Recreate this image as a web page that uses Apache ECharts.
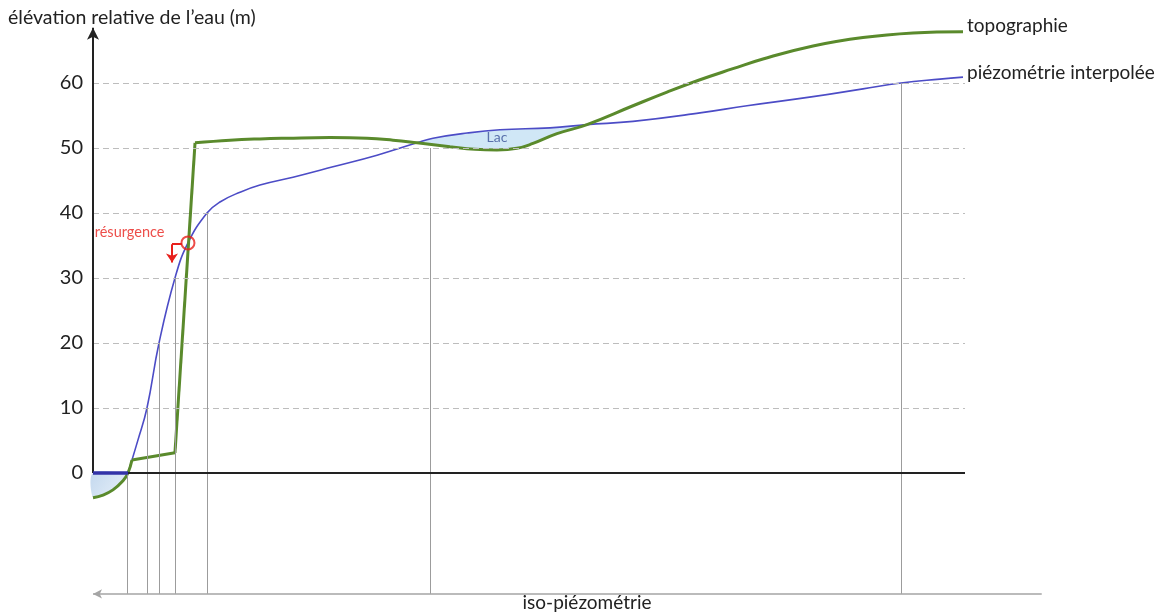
<!DOCTYPE html>
<html>
<head>
<meta charset="utf-8">
<script src="https://cdn.jsdelivr.net/npm/echarts/dist/echarts.min.js"></script>
<style>
  html, body { margin: 0; padding: 0; background: #ffffff; }
  #chart { width: 1171px; height: 615px; }
</style>
</head>
<body>
<div id="chart"></div>
<script>
// Cross-section: distance along the profile (arbitrary units) and elevation relative to the water (m)
const topoX = [0, 11.5, 22.9, 34.4, 40.1, 44.7, 94.0, 117.0, 157.1, 191.5, 222.5, 271.8, 314.2, 344.0,
  371.6, 409.4, 438.1, 463.3, 486.2, 504.6, 532.1, 566.5, 619.3, 658.3, 696.1, 733.9, 768.3, 825.7,
  883.0, 940.4, 997.7];
const topoY = [-3.8, -3.4, -2.6, -1.2, 0, 2.0, 3.1, 50.8, 51.2, 51.4, 51.5, 51.6, 51.5, 51.2,
  50.8, 50.2, 49.8, 49.7, 49.95, 50.7, 52.2, 53.6, 56.5, 58.6, 60.5, 62.2, 63.7, 65.7,
  67.0, 67.7, 67.9];
// indices where the terrain profile has sharp breaks
const topoCorners = [5, 6, 7];

const piezoX = [0, 40.1, 51.6, 61.9, 75.7, 94.0, 108.9, 130.7, 145.6, 168.6, 191.5, 229.4, 275.2,
  325.7, 371.6, 389.9, 428.9, 466.7, 524.1, 566.5, 619.3, 696.1, 750.0, 825.7, 883.0, 926.6,
  971.3, 997.7];
const piezoY = [0, 0, 5.1, 10, 20, 30, 35.4, 40, 41.7, 43.2, 44.3, 45.5, 47.1,
  48.9, 50.8, 51.5, 52.3, 52.8, 53.1, 53.6, 54.1, 55.4, 56.5, 57.9, 59.1, 60.0,
  60.6, 60.9];
// the first piece (the water surface on the left) is drawn thicker
const piezoCorners = [1];

// iso-piezometric lines: level (m) and position along the profile
const isoLevels = [0, 10, 20, 30, 40, 50, 60];
const isoX = [39.0, 61.9, 75.7, 94.0, 130.7, 386.5, 926.6];

const yTicks = [0, 10, 20, 30, 40, 50, 60];

const resurgence = [108.9, 35.4];
const resurgenceArrow = [[102.1, 35.2], [90.6, 35.2], [90.6, 32.4]];
const lacRange = [371.6, 566.5];
const lacLabelPos = [463.3, 51.6];
const leftLakeRange = [0, 40.1];

const PROFILE_END = 1000;
const BASE_LEVEL = -18.6;
const BASE_END = 1088;
const AXIS_TOP = 68.5;

const FONT = 'Lato, "Open Sans", sans-serif';
const GREEN = '#5a8a2c';
const BLUE = '#4c4cc6';
const RED = '#e8201c';

function pieces(xs, ys, corners) {
  const cuts = [0].concat(corners, [xs.length - 1]);
  const out = [];
  for (let i = 0; i < cuts.length - 1; i++) {
    const seg = [];
    for (let k = cuts[i]; k <= cuts[i + 1]; k++) seg.push([xs[k], ys[k]]);
    out.push(seg);
  }
  return out;
}

function within(x, range) {
  return x >= range[0] - 1e-9 && x <= range[1] + 1e-9;
}

const chart = echarts.init(document.getElementById('chart'), null, { renderer: 'canvas' });

const topoPieces = pieces(topoX, topoY, topoCorners);
const piezoPieces = pieces(piezoX, piezoY, piezoCorners);

const series = [];

// water bodies: the pool on the left and the lake between the two profiles
series.push({
  type: 'custom',
  z: 1,
  silent: true,
  data: [[0, 0]],
  renderItem: function (params, api) {
    const left = [];
    topoX.forEach((x, i) => { if (within(x, leftLakeRange)) left.push(api.coord([x, topoY[i]])); });
    left.push(api.coord([leftLakeRange[1], 0]));
    left.push(api.coord([leftLakeRange[0], 0]));

    const top = [];
    const bottom = [];
    piezoX.forEach((x, i) => { if (within(x, lacRange)) top.push(api.coord([x, piezoY[i]])); });
    topoX.forEach((x, i) => { if (within(x, lacRange)) bottom.push(api.coord([x, topoY[i]])); });
    const lac = top.concat(bottom.reverse());

    return {
      type: 'group',
      children: [
        {
          type: 'polygon',
          shape: { points: left, smooth: 0.3 },
          style: {
            fill: new echarts.graphic.LinearGradient(0, 0, 1, 1, [
              { offset: 0, color: '#c3d8ee' },
              { offset: 1, color: '#e9f1fa' }
            ])
          }
        },
        {
          type: 'polygon',
          shape: { points: lac, smooth: 0.3 },
          style: { fill: '#d0e7f6' }
        }
      ]
    };
  }
});

// frame: axes, reference levels and iso-piezometric verticals
const gridLines = yTicks.filter(v => v > 0).map(v => [
  { coord: [0, v] }, { coord: [PROFILE_END, v] }
]);
const isoLines = isoX.map((x, i) => [
  { coord: [x, isoLevels[i]] }, { coord: [x, BASE_LEVEL] }
]);

series.push({
  type: 'line',
  data: [],
  z: 2,
  silent: true,
  markLine: {
    silent: true,
    animation: false,
    symbol: 'none',
    label: { show: false },
    data: [].concat(
      gridLines.map(l => [
        Object.assign({}, l[0], { lineStyle: { color: '#bdbdbd', width: 1, type: [6, 4] } }),
        l[1]
      ]),
      isoLines.map(l => [
        Object.assign({}, l[0], { lineStyle: { color: '#9c9c9c', width: 1, type: 'solid' } }),
        l[1]
      ]),
      [[
        { coord: [0, 0], lineStyle: { color: '#222222', width: 2, type: 'solid' } },
        { coord: [PROFILE_END, 0] }
      ]],
      [[
        { coord: [0, 0], symbol: 'none', lineStyle: { color: '#222222', width: 2, type: 'solid' } },
        { coord: [0, AXIS_TOP], symbol: 'arrow', symbolSize: [9, 12] }
      ]],
      [[
        { coord: [BASE_END, BASE_LEVEL], symbol: 'none', lineStyle: { color: '#a5a5a5', width: 1.5, type: 'solid' } },
        { coord: [0, BASE_LEVEL], symbol: 'arrow', symbolSize: [7, 9] }
      ]]
    )
  }
});

// terrain profile
topoPieces.forEach((seg, i) => {
  const last = i === topoPieces.length - 1;
  series.push({
    type: 'line',
    name: 'topographie',
    data: seg,
    z: 4,
    smooth: 0.45,
    symbol: 'none',
    silent: true,
    lineStyle: { color: GREEN, width: 3 },
    endLabel: last ? {
      show: true,
      formatter: 'topographie',
      color: '#222222',
      fontFamily: FONT,
      fontSize: 19,
      distance: 4,
      offset: [0, -6]
    } : { show: false }
  });
});

// interpolated water table
piezoPieces.forEach((seg, i) => {
  const first = i === 0;
  const last = i === piezoPieces.length - 1;
  series.push({
    type: 'line',
    name: 'piézométrie interpolée',
    data: seg,
    z: first ? 5 : 3,
    smooth: 0.45,
    symbol: 'none',
    silent: true,
    lineStyle: first ? { color: '#3333a8', width: 3.5 } : { color: BLUE, width: 1.6 },
    endLabel: last ? {
      show: true,
      formatter: 'piézométrie interpolée',
      color: '#222222',
      fontFamily: FONT,
      fontSize: 19,
      distance: 4,
      offset: [0, -4]
    } : { show: false }
  });
});

// spring where the water table meets the ground surface
series.push({
  type: 'scatter',
  data: [resurgence],
  z: 6,
  silent: true,
  symbol: 'circle',
  symbolSize: 13,
  itemStyle: { color: 'rgba(255,255,255,0)', borderColor: RED, borderWidth: 2 },
  label: {
    show: true,
    formatter: 'résurgence',
    position: 'left',
    distance: 16,
    offset: [0, -11],
    color: RED,
    fontFamily: FONT,
    fontSize: 14.5
  },
  markLine: {
    silent: true,
    animation: false,
    label: { show: false },
    lineStyle: { color: RED, width: 2, type: 'solid' },
    data: [
      [
        { coord: resurgenceArrow[0], symbol: 'none' },
        { coord: resurgenceArrow[1], symbol: 'none' }
      ],
      [
        { coord: resurgenceArrow[1], symbol: 'none' },
        { coord: resurgenceArrow[2], symbol: 'arrow', symbolSize: [9, 9] }
      ]
    ]
  }
});

// lake label
series.push({
  type: 'scatter',
  data: [lacLabelPos],
  z: 6,
  silent: true,
  symbolSize: 0,
  label: {
    show: true,
    position: 'inside',
    formatter: 'Lac',
    color: '#3b5298',
    fontFamily: FONT,
    fontSize: 14
  }
});

chart.setOption({
  animation: false,
  backgroundColor: '#ffffff',
  grid: { left: 93, right: 1171 - 93 - 0.872 * 1090, top: 18, bottom: 12, containLabel: false },
  xAxis: {
    type: 'value',
    min: 0,
    max: 1090,
    show: false
  },
  yAxis: {
    type: 'value',
    min: -20,
    max: 70,
    interval: 10,
    axisLine: { show: false },
    axisTick: { show: false },
    splitLine: { show: false },
    axisLabel: {
      margin: 10,
      color: '#222222',
      fontFamily: FONT,
      fontSize: 20,
      formatter: v => (yTicks.indexOf(v) >= 0 ? String(v) : '')
    }
  },
  graphic: [
    {
      type: 'text',
      x: 8,
      y: 18,
      silent: true,
      style: {
        text: 'élévation relative de l’eau (m)',
        fill: '#222222',
        font: '19.5px ' + FONT,
        textVerticalAlign: 'middle'
      }
    },
    {
      type: 'text',
      x: 587,
      y: 603,
      silent: true,
      style: {
        text: 'iso-piézométrie',
        fill: '#222222',
        font: '19px ' + FONT,
        textAlign: 'center',
        textVerticalAlign: 'middle'
      }
    }
  ],
  series: series
});
</script>
</body>
</html>
